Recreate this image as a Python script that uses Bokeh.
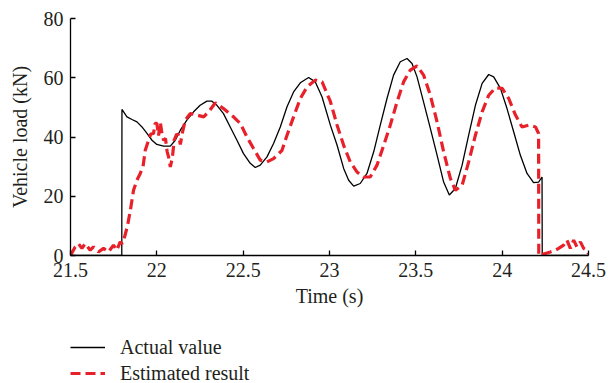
from bokeh.plotting import figure
from bokeh.layouts import column
from bokeh.models import Legend, LegendItem, FixedTicker, Range1d
from bokeh.embed import file_html
from bokeh.resources import INLINE

# ---- data ----
act_t = [21.5, 21.797, 21.798, 21.827, 21.856, 21.885, 21.914, 21.943, 21.972, 22.0,
         22.039, 22.078, 22.107, 22.136, 22.174, 22.213, 22.251, 22.29, 22.319, 22.348,
         22.386, 22.425, 22.464, 22.502, 22.541, 22.57, 22.599, 22.638, 22.676, 22.715,
         22.754, 22.792, 22.831, 22.879, 22.918, 22.957, 23.005, 23.044, 23.082, 23.111,
         23.14, 23.178, 23.217, 23.256, 23.294, 23.333, 23.371, 23.41, 23.449, 23.478,
         23.507, 23.545, 23.584, 23.623, 23.661, 23.694, 23.729, 23.768, 23.806, 23.845,
         23.884, 23.922, 23.951, 23.99, 24.028, 24.067, 24.105, 24.144, 24.182, 24.211,
         24.231, 24.232, 24.5]
act_v = [0, 0, 49.3, 46.8, 45.9, 45.1, 43.4, 41.2, 38.9, 37.5,
         36.9, 36.9, 38.9, 42.3, 45.7, 48.5, 50.7, 52.1, 52.1, 50.7,
         47.9, 43.4, 38.9, 34.4, 31.1, 29.7, 30.5, 33.3, 37.8, 43.4,
         50.2, 55.2, 58.3, 60.1, 58.6, 53.5, 44.0, 37.2, 29.4, 25.4,
         23.4, 24.3, 27.7, 35.0, 44.0, 53.0, 60.9, 65.4, 66.5, 64.8,
         60.3, 51.8, 42.9, 33.9, 24.8, 20.4, 22.6, 30.5, 40.6, 50.7,
         58.1, 61.1, 60.3, 56.4, 49.6, 41.7, 33.9, 27.7, 24.6, 24.8,
         26.5, 0, 0]

est_t = [21.5, 21.527, 21.546, 21.566, 21.585, 21.614, 21.633, 21.662, 21.691, 21.72,
         21.749, 21.768, 21.788, 21.8, 21.81, 21.83, 21.846, 21.865, 21.885, 21.904,
         21.92, 21.933, 21.952, 21.965, 21.981, 21.99, 22.0, 22.01, 22.02, 22.03,
         22.039, 22.05, 22.06, 22.068, 22.078, 22.09, 22.1, 22.115, 22.126, 22.136,
         22.15, 22.165, 22.194, 22.232, 22.271, 22.3, 22.338, 22.386, 22.444, 22.483,
         22.522, 22.56, 22.599, 22.638, 22.676, 22.725, 22.754, 22.792, 22.831, 22.87,
         22.918, 22.957, 23.005, 23.044, 23.082, 23.12, 23.159, 23.198, 23.236, 23.275,
         23.314, 23.352, 23.391, 23.429, 23.468, 23.507, 23.545, 23.584, 23.623, 23.661,
         23.7, 23.729, 23.768, 23.806, 23.845, 23.884, 23.922, 23.961, 24.0, 24.038,
         24.077, 24.115, 24.154, 24.193, 24.211, 24.212, 24.25, 24.279, 24.308, 24.327,
         24.356, 24.375, 24.395, 24.414, 24.433, 24.453, 24.472, 24.49, 24.5]
est_v = [0, 2.9, 4.0, 2.4, 4.0, 1.8, 2.9, 1.2, 2.4, 1.2,
         3.5, 1.8, 4.6, 4.0, 5.5, 10.0, 15.0, 22.0, 25.5, 27.7,
         30.0, 35.5, 38.9, 41.0, 41.2, 44.6, 44.6, 40.5, 45.0, 41.0,
         38.9, 39.5, 35.0, 33.3, 29.9, 33.0, 38.9, 41.0, 40.6, 37.5,
         42.0, 45.7, 47.9, 47.4, 46.8, 48.5, 51.5, 49.6, 46.8, 44.6,
         40.0, 36.1, 32.2, 31.6, 32.7, 35.5, 40.6, 46.8, 53.0, 56.9,
         59.2, 58.6, 52.0, 44.0, 37.2, 31.6, 28.2, 26.5, 26.5, 30.5,
         37.2, 44.0, 51.8, 58.6, 62.6, 64.0, 60.9, 54.1, 45.1, 35.0,
         26.0, 22.0, 23.7, 31.6, 40.6, 48.5, 54.1, 56.6, 56.4, 53.0,
         47.4, 43.4, 44.0, 43.4, 41.2, 0, 0.7, 1.2, 1.8, 2.4,
         3.5, 5.2, 2.4, 5.2, 2.9, 4.6, 2.4, 1.8, 0.6]

x_ticks = [21.5, 22, 22.5, 23, 23.5, 24, 24.5]
x_tick_labels = ["21.5", "22", "22.5", "23", "23.5", "24", "24.5"]
y_ticks = [0, 20, 40, 60, 80]
series_names = ["Actual value", "Estimated result"]

FONT = "Liberation Serif"
TXT = "#231f20"
RED = "#e8202a"

p = figure(frame_width=518, frame_height=237, output_backend="svg", toolbar_location=None,
           x_range=Range1d(21.5, 24.5), y_range=Range1d(0, 80),
           min_border_left=70, min_border_right=20, min_border_top=18,
           min_border_bottom=58)
p.outline_line_color = None
p.grid.visible = False

p.line(act_t, act_v, line_color="black", line_width=1.3)
p.line(est_t, est_v, line_color=RED, line_width=3.2, line_dash="10 5")

for ax in (p.xaxis[0], p.yaxis[0]):
    ax.major_tick_in = 5
    ax.major_tick_out = 0
    ax.minor_tick_line_color = None
    ax.axis_line_color = "black"
    ax.axis_line_width = 1.3
    ax.major_tick_line_color = "black"
    ax.major_tick_line_width = 1.3
    ax.major_label_text_font = FONT
    ax.major_label_text_font_size = "20px"
    ax.major_label_text_color = TXT
    ax.axis_label_text_font = FONT
    ax.axis_label_text_font_size = "20px"
    ax.axis_label_text_font_style = "normal"
    ax.axis_label_text_color = TXT

p.xaxis.ticker = FixedTicker(ticks=x_ticks)
p.xaxis.major_label_overrides = {t: l for t, l in zip(x_ticks, x_tick_labels)}
p.yaxis.ticker = FixedTicker(ticks=y_ticks)
p.xaxis.axis_label = "Time (s)"
p.yaxis.axis_label = "Vehicle load (kN)"
p.xaxis.major_label_standoff = 7
p.xaxis.axis_label_standoff = 5
p.yaxis.major_label_standoff = 7
p.yaxis.axis_label_standoff = 10

# legend panel below the chart; its renderers reuse the series but lie outside its view range
lg = figure(width=608, height=70, output_backend="svg", toolbar_location=None,
            min_border=0, x_axis_type=None, y_axis_type=None,
            x_range=Range1d(0, 1), y_range=Range1d(0, 1))
lg.outline_line_color = None
lg.grid.visible = False
s_act = lg.line(act_t, act_v, line_color="black", line_width=1.3)
s_est = lg.line(est_t, est_v, line_color=RED, line_width=3.2, line_dash="10 5")

legend = Legend(items=[LegendItem(label=series_names[0], renderers=[s_act]),
                       LegendItem(label=series_names[1], renderers=[s_est])],
                orientation="vertical", location=(0, -2))
legend.margin = 0
legend.padding = 0
legend.border_line_color = None
legend.background_fill_alpha = 0
legend.glyph_width = 35
legend.glyph_height = 24
legend.label_height = 24
legend.spacing = 2
legend.label_standoff = 15
legend.label_text_font = FONT
legend.label_text_font_size = "20px"
legend.label_text_color = TXT
lg.add_layout(legend, "center")

layout = column(p, lg, spacing=0)
open("out.html", "w").write(file_html(layout, INLINE))
